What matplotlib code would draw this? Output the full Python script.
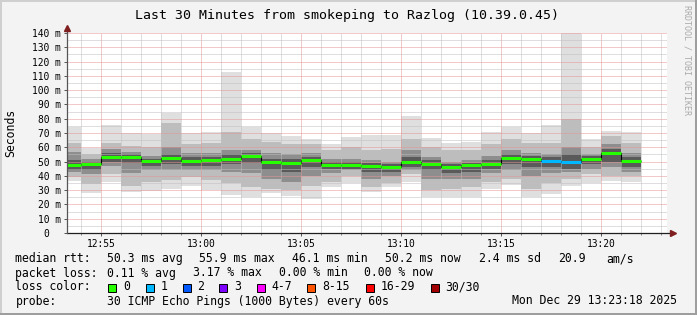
import matplotlib
matplotlib.use("Agg")
import matplotlib.pyplot as plt
from matplotlib.patches import Rectangle
from matplotlib.transforms import ScaledTranslation

W, H = 697, 315

# one bar per minute (start of the step), 30 pings each
bar_times = ["12:53", "12:54", "12:55", "12:56", "12:57", "12:58", "12:59", "13:00",
             "13:01", "13:02", "13:03", "13:04", "13:05", "13:06", "13:07", "13:08",
             "13:09", "13:10", "13:11", "13:12", "13:13", "13:14", "13:15", "13:16",
             "13:17", "13:18", "13:19", "13:20", "13:21"]
median_ms = [47.8, 48.3, 53.0, 53.4, 50.4, 52.5, 50.6, 50.9, 51.6, 53.9, 49.5, 49.2, 51.1, 47.4,
             47.4, 46.9, 46.4, 49.7, 48.5, 46.1, 47.4, 48.5, 52.7, 52.0, 50.6, 49.9, 52.0, 55.9, 50.2]
min_ms = [36.6, 28.2, 35.9, 28.9, 29.6, 31.0, 32.9, 29.9, 26.6, 25.0, 27.8, 25.9, 24.0, 32.0,
          34.8, 28.9, 32.4, 35.9, 25.0, 25.0, 25.0, 31.0, 33.8, 25.0, 27.3, 33.1, 34.8, 36.6, 35.9]
max_ms = [74.4, 59.3, 75.6, 69.8, 69.1, 84.2, 69.8, 70.9, 112.9, 74.4, 69.8, 68.1, 65.6, 62.1,
          67.4, 68.8, 68.8, 82.1, 66.3, 63.2, 63.9, 70.7, 74.4, 69.8, 75.6, 139.8, 65.6, 71.4, 70.7]
p10_ms = [39, 34, 41, 33, 36, 37, 39, 37, 35, 32, 31, 30, 33, 36,
          40, 32, 35, 41, 30, 31, 32, 36, 38, 31, 35, 38, 41, 40, 40]
p25_ms = [43, 41, 47, 42, 44, 44, 44, 44, 43, 42, 38, 36, 40, 42,
          44, 38, 40, 44, 38, 38, 38, 42, 44, 40, 42, 43, 45, 46, 43]
p40_ms = [44, 44, 50, 49, 47, 48, 47, 47, 48, 49, 44, 43, 46, 45,
          45, 43, 43, 46, 44, 42, 43, 45, 48, 46, 46, 45, 48, 50, 46]
p60_ms = [51, 50, 56, 55, 52, 55, 53, 53, 55, 56, 52, 52, 53, 50,
          50, 49, 48, 53, 51, 48, 49, 51, 55, 54, 53, 55, 54, 59, 53]
p75_ms = [57, 52, 59, 57, 54, 60, 56, 56, 58, 58, 56, 55, 56, 52,
          52, 51, 50, 58, 53, 50, 51, 54, 58, 56, 55, 60, 55, 62, 56]
p90_ms = [63, 55, 63, 61, 60, 77, 62, 63, 71, 66, 64, 62, 62, 58,
          60, 58, 59, 66, 60, 58, 58, 62, 66, 63, 63, 80, 60, 68, 63]
lost_pings = [0, 0, 0, 0, 0, 0, 0, 0, 0, 0, 0, 0, 0, 0,
              0, 0, 0, 0, 0, 0, 0, 0, 0, 0, 1, 1, 0, 0, 0]

loss_labels = ["0", "1", "2", "3", "4-7", "8-15", "16-29", "30/30"]
loss_colors = ["#26ff00", "#00b8ff", "#0059ff", "#7e00ff", "#ff00ff", "#ff5500", "#ff0000", "#a10000"]
loss_upper = [0, 1, 2, 3, 7, 15, 29, 30]

start_time = "12:53:18"
end_time = "13:23:18"

y_ticks = [0, 10, 20, 30, 40, 50, 60, 70, 80, 90, 100, 110, 120, 130, 140]
y_tick_labels = ["0", "10 m", "20 m", "30 m", "40 m", "50 m", "60 m", "70 m", "80 m",
                 "90 m", "100 m", "110 m", "120 m", "130 m", "140 m"]
x_ticks = ["12:55", "13:00", "13:05", "13:10", "13:15", "13:20"]


def minutes(s):
    parts = [int(p) for p in s.split(":")]
    m = parts[0] * 60 + parts[1] - 720
    if len(parts) > 2:
        m += parts[2] / 60.0
    return m


def px(x, y):
    return x / W, 1 - y / H


def loss_color(n):
    for up, c in zip(loss_upper, loss_colors):
        if n <= up:
            return c
    return loss_colors[-1]


MONO = "DejaVu Sans Mono"
fig = plt.figure(figsize=(W / 100, H / 100), dpi=100, facecolor="#f3f3f3")

# rrdtool style shaded frame
fig.patches.append(Rectangle((0, 1 - 2 / H), 1, 2 / H, transform=fig.transFigure, color="#cfcfcf", lw=0))
fig.patches.append(Rectangle((0, 0), 2 / W, 1, transform=fig.transFigure, color="#cfcfcf", lw=0))
fig.patches.append(Rectangle((0, 0), 1, 2 / H, transform=fig.transFigure, color="#9e9e9e", lw=0))
fig.patches.append(Rectangle((1 - 2 / W, 0), 2 / W, 1, transform=fig.transFigure, color="#9e9e9e", lw=0))

ax = fig.add_axes([67 / W, 82 / H, 600 / W, 200 / H])
ax.set_facecolor("white")

starts = [minutes(t) for t in bar_times]
x0, x1 = minutes(start_time), minutes(end_time)

# smoke, light outside -> dark near the median
bands = [(min_ms, max_ms, "#dfdfdf"), (p10_ms, p90_ms, "#bdbdbd"),
         (p25_ms, p75_ms, "#8e8e8e"), (p40_ms, p60_ms, "#5a5a5a")]
for lo, hi, col in bands:
    ax.bar(starts, [h - l for l, h in zip(lo, hi)], bottom=lo, width=1, align="edge",
           color=col, lw=0, zorder=1)

# median
edges = starts + [starts[-1] + 1]
ax.stairs(median_ms, edges, baseline=None, color="black", lw=0.8, zorder=3)
ax.hlines(median_ms, starts, [s + 1 for s in starts], colors=[loss_color(n) for n in lost_pings],
          lw=2.2, zorder=4)

ax.set_xlim(x0, x1)
ax.set_ylim(0, 140)

ax.set_xticks([minutes(t) for t in x_ticks])
ax.set_xticklabels(x_ticks, fontfamily=MONO, fontsize=6.9)
ax.set_xticks([m for m in range(54, 84)], minor=True)
ax.set_yticks(y_ticks)
ax.set_yticklabels(y_tick_labels, fontfamily=MONO, fontsize=6.9)
ax.set_yticks([v + 5 for v in y_ticks[:-1]], minor=True)

ax.tick_params(axis="both", which="major", length=2.2, width=0.7, color="#555555", pad=2.2)
ax.tick_params(axis="x", which="minor", length=1.4, width=0.7, color="#888888")
ax.tick_params(axis="y", which="minor", length=0)
ax.tick_params(axis="x", pad=1.8)
zero_lbl = ax.get_yticklabels()[0]
zero_lbl.set_transform(zero_lbl.get_transform() + ScaledTranslation(-12 / 100, 0, fig.dpi_scale_trans))

ax.set_axisbelow(False)
ax.grid(which="minor", color="#bfbfbf", ls=(0, (1, 1)), lw=0.72)
ax.grid(which="major", color="#e49494", ls=(0, (1, 1)), lw=0.72)

for s in ax.spines.values():
    s.set_visible(False)

# axes with arrow heads
ax.plot([0, 1 + 4 / 600], [0, 0], transform=ax.transAxes, color="#1f1f1f", lw=0.9, clip_on=False, zorder=5)
ax.plot([0, 0], [0, 1 + 4 / 200], transform=ax.transAxes, color="#555555", lw=0.9, clip_on=False, zorder=5)
ax.plot([1 + 6 / 600], [0], marker=">", ms=4.5, color="#7f1f1f", transform=ax.transAxes, clip_on=False, zorder=6)
ax.plot([0], [1 + 5 / 200], marker="^", ms=4.5, color="#7f1f1f", transform=ax.transAxes, clip_on=False, zorder=6)

# title, axis label, watermark
fig.text(*px(346.7, 18.5), "Last 30 Minutes from smokeping to Razlog (10.39.0.45)",
         ha="center", va="baseline", fontfamily=MONO, fontsize=9.5)
fig.text(*px(11, 133), "Seconds", rotation=90, ha="center", va="center", fontfamily=MONO, fontsize=8.3)
fig.text(*px(687.5, 60), "RRDTOOL / TOBI OETIKER", rotation=-90, ha="center", va="center",
         fontfamily=MONO, fontsize=6, color="#aaaaaa")

# legend
rows = [
    (262.3, [(16, "median rtt:"), (107.3, "50.3 ms avg"), (200, "55.9 ms max"), (292.7, "46.1 ms min"),
             (386, "50.2 ms now"), (479.3, "2.4 ms sd"), (558.3, "20.9"), (607.3, "am/s")]),
    (276.5, [(16, "packet loss:"), (107.3, "0.11 % avg"), (193.3, "3.17 % max"), (279.3, "0.00 % min"),
             (365, "0.00 % now")]),
    (290.5, [(16, "loss color:")]),
    (304.5, [(16, "probe:"), (107.3, "30 ICMP Echo Pings (1000 Bytes) every 60s"),
             (512.7, "Mon Dec 29 13:23:18 2025")]),
]
for y, items in rows:
    for x, s in items:
        fig.text(*px(x - 0.6, y), s, ha="left", va="baseline", fontfamily=MONO, fontsize=8.3)

box_x = [108.3, 145.7, 182.7, 219.3, 256.7, 307.3, 365.7, 430.7]
for bx, lab, col in zip(box_x, loss_labels, loss_colors):
    fx, fy = px(bx, 291.5)
    fig.patches.append(Rectangle((fx, fy), 8 / W, 8 / H, transform=fig.transFigure,
                                 facecolor=col, edgecolor="black", lw=0.7))
    fig.text(*px(bx + 14.6, 290.5), lab, ha="left", va="baseline", fontfamily=MONO, fontsize=8.3)

fig.savefig("out.png", dpi=100, facecolor=fig.get_facecolor())
